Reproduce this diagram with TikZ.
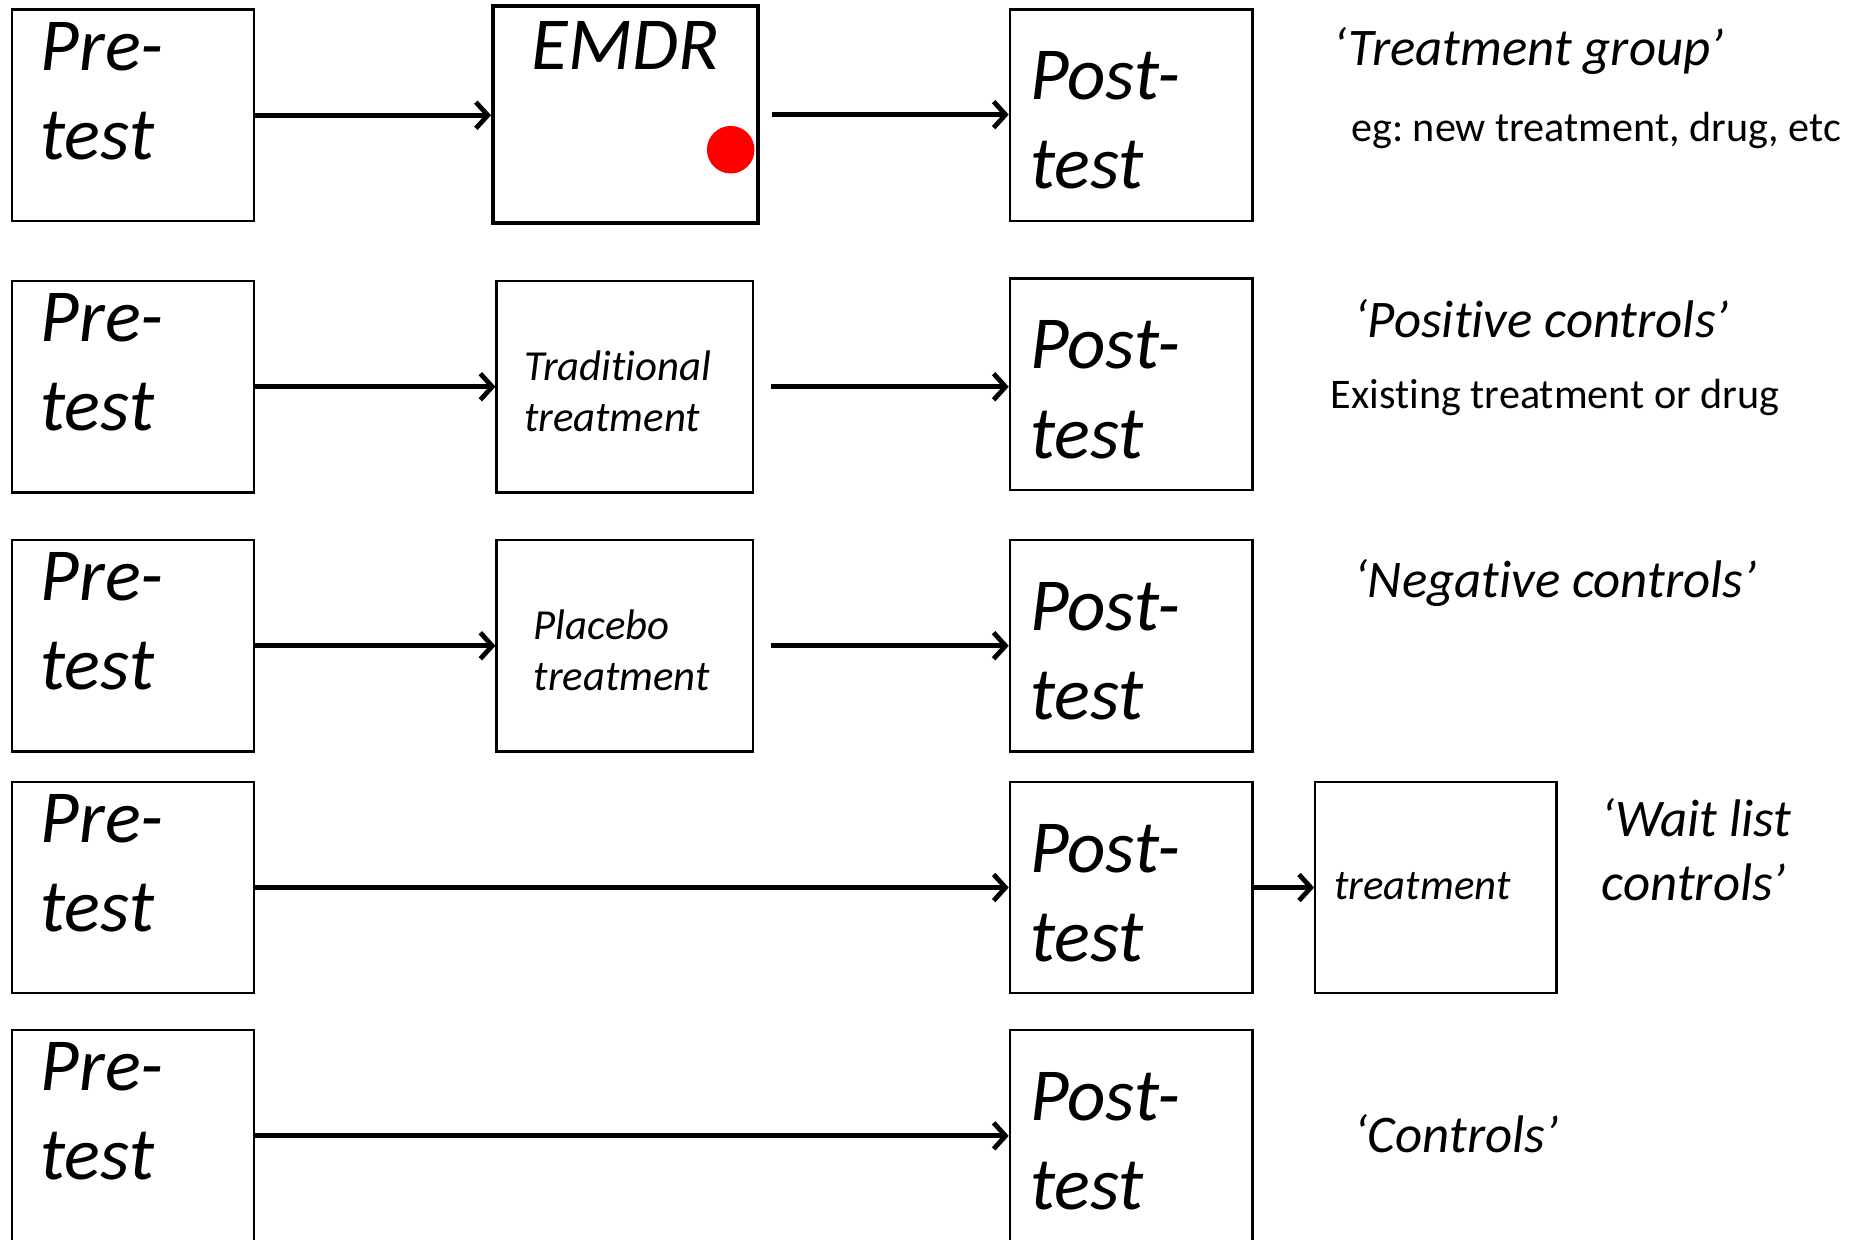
\documentclass[tikz,border=0pt]{standalone}
\usepackage{fontspec}
\setmainfont{Carlito}[Ligatures=NoCommon]
\usetikzlibrary{arrows.meta}
\frenchspacing
\begin{document}
\begin{tikzpicture}[x=1pt,y=-1pt,
  stagebox/.style={draw, line width=2pt, inner sep=0pt, minimum width=204pt, minimum height=178pt},
  txtbig/.style={font=\fontsize{63}{75}\selectfont\itshape, anchor=base west, inner sep=0pt, align=left},
  txtsmall/.style={font=\fontsize{36}{43}\selectfont\itshape, anchor=base west, inner sep=0pt, align=left},
  grouptxt/.style={font=\fontsize{44.5}{54}\selectfont\itshape, anchor=base west, inner sep=0pt, align=left},
  notetxt/.style={font=\fontsize{35.5}{42}\selectfont, anchor=base west, inner sep=0pt},
  flowarrow/.style={line width=4pt, -{Straight Barb[length=10pt,width=22pt]}}
]
\useasboundingbox (0,0) rectangle (1568,1043);

% ---- boxes ----
\node[stagebox] (pre1)  at (112,97) {};
\node[stagebox, line width=3.5pt, minimum width=223pt, minimum height=183pt] (emdr) at (526.5,96.5) {};
\node[stagebox] (post1) at (952,97) {};

\node[stagebox] (pre2)  at (112,325.5) {};
\node[stagebox, minimum width=216pt] (trad) at (526,325.5) {};
\node[stagebox] (post2) at (952,323.5) {};

\node[stagebox] (pre3)  at (112,543.5) {};
\node[stagebox, minimum width=216pt] (plac) at (526,543.5) {};
\node[stagebox] (post3) at (952,543.5) {};

\node[stagebox] (pre4)  at (112,747) {};
\node[stagebox] (post4) at (952,747) {};
\node[stagebox, minimum width=203pt] (wait) at (1208.5,747) {};

\node[stagebox] (pre5)  at (112,956) {};
\node[stagebox] (post5) at (952,956) {};

% ---- red marker ----
\node[circle, fill=red, minimum size=40pt, inner sep=0pt] (dot) at (615,126) {};

% ---- box texts (anchored on the baseline of the last line) ----
\foreach \n in {1,...,5}{
  \node[txtbig] at ([shift={(25,127)}]pre\n.north west) {Pre-\\test};
  \node[txtbig] at ([shift={(18,152)}]post\n.north west) {Post-\\test};
}
\node[txtbig, anchor=base] at ([yshift=-55pt]emdr.north) {EMDR};
\node[txtsmall] at ([shift={(24,128)}]trad.north west) {Traditional\\treatment};
\node[txtsmall] at ([shift={(32,128)}]plac.north west) {Placebo\\treatment};
\node[txtsmall] at ([shift={(17,100)}]wait.north west) {treatment};

% ---- connectors ----
\draw[flowarrow] (pre1.east) -- (pre1.east -| emdr.west);
\draw[flowarrow] ([xshift=10pt]emdr.east) -- (emdr.east -| post1.west);
\draw[flowarrow] (pre2.east) -- (pre2.east -| trad.west);
\draw[flowarrow] ([xshift=14pt]trad.east) -- (trad.east -| post2.west);
\draw[flowarrow] (pre3.east) -- (pre3.east -| plac.west);
\draw[flowarrow] ([xshift=14pt]plac.east) -- (plac.east -| post3.west);
\draw[flowarrow] (pre4.east) -- (pre4.east -| post4.west);
\draw[flowarrow] (post4.east) -- (post4.east -| wait.west);
\draw[flowarrow] (pre5.east) -- (pre5.east -| post5.west);

% ---- group descriptions ----
\node[grouptxt] (g1) at (1122,55)  {‘Treatment group’};
\node[notetxt]  (n1) at (1137,119) {eg: new treatment, drug, etc};
\node[grouptxt] (g2) at (1140,284) {‘Positive controls’};
\node[notetxt]  (n2) at (1120,344) {Existing treatment or drug};
\node[grouptxt] (g3) at (1140,503) {‘Negative controls’};
\node[grouptxt] (g4) at (1348,758) {‘Wait list\\controls’};
\node[grouptxt] (g5) at (1140,970) {‘Controls’};
\end{tikzpicture}
\end{document}
